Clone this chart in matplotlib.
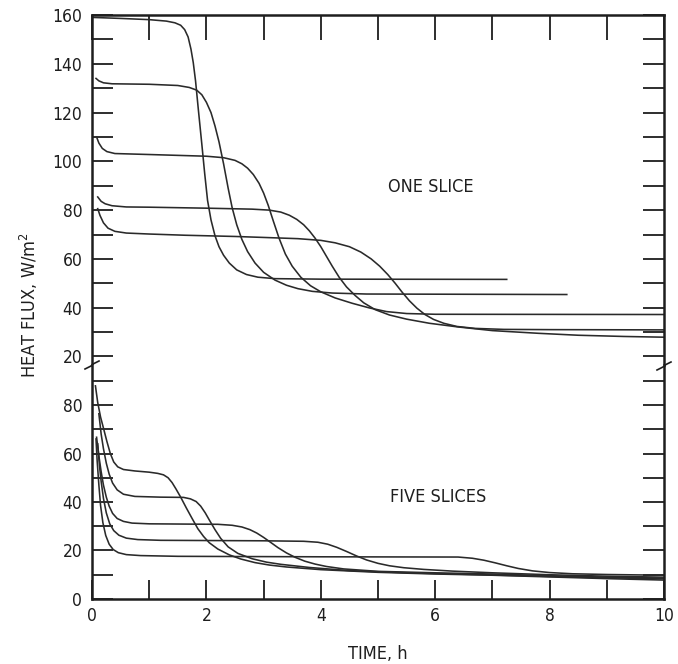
import matplotlib
matplotlib.use("Agg")
import matplotlib.pyplot as plt
from matplotlib.lines import Line2D
from matplotlib.ticker import MultipleLocator

plt.rcParams["font.family"] = ["DejaVu Sans"]
plt.rcParams["font.stretch"] = "condensed"

# ONE SLICE: heat flux (W/m2) against time (h)
one_t1 = [0.02, 0.5, 1.0, 1.3, 1.45, 1.55, 1.62, 1.68, 1.73, 1.77, 1.81, 1.86, 1.92, 1.97, 2.02, 2.08,
          2.15, 2.22, 2.3, 2.4, 2.53, 2.7, 2.9, 3.2, 4.0, 7.25]
one_q1 = [159.0, 158.6, 158.1, 157.5, 156.8, 155.8, 154.0, 151.0, 146.0, 140.5, 133.0, 121.0, 107.0, 95.0, 84.0, 76.0,
          69.5, 65.0, 61.5, 58.3, 55.5, 53.6, 52.5, 51.9, 51.7, 51.6]

one_t2 = [0.07, 0.12, 0.2, 0.35, 1.0, 1.5, 1.7, 1.83, 1.92, 2.0, 2.08, 2.15, 2.22, 2.3, 2.38, 2.45, 2.53,
          2.62, 2.72, 2.85, 3.0, 3.2, 3.4, 3.6, 3.85, 4.2, 4.8, 8.3]
one_q2 = [134.0, 133.0, 132.2, 131.8, 131.6, 131.1, 130.3, 129.2, 127.3, 124.2, 120.0, 114.5, 108.0, 99.0, 89.0, 81.0, 74.0,
          68.0, 63.0, 58.3, 54.5, 51.3, 49.2, 47.8, 46.7, 46.0, 45.6, 45.4]

one_t3 = [0.08, 0.12, 0.18, 0.26, 0.4, 1.0, 2.0, 2.3, 2.5, 2.62, 2.72, 2.82, 2.92, 3.0, 3.08, 3.17, 3.27,
          3.38, 3.5, 3.65, 3.82, 4.0, 4.25, 4.55, 4.85, 5.15, 5.5, 6.0, 10.0]
one_q3 = [110.0, 107.5, 105.3, 104.0, 103.2, 102.8, 102.1, 101.5, 100.4, 99.0, 97.2, 94.6, 91.0, 87.0, 82.0, 75.5, 68.5,
          62.0, 57.0, 52.5, 49.0, 46.5, 44.0, 41.8, 39.9, 38.4, 37.6, 37.3, 37.2]

one_t4 = [0.1, 0.16, 0.23, 0.35, 0.6, 1.0, 2.0, 2.8, 3.1, 3.3, 3.45, 3.58, 3.7, 3.8, 3.9, 4.0, 4.1, 4.2,
          4.32, 4.45, 4.6, 4.75, 4.95, 5.2, 5.5, 5.9, 6.4, 7.0, 7.8, 8.5, 9.3, 10.0]
one_q4 = [85.4, 83.6, 82.6, 81.8, 81.3, 81.2, 80.8, 80.4, 80.0, 79.2, 77.9, 76.2, 74.0, 71.5, 68.5, 65.0, 61.0, 57.0,
          52.5, 48.5, 45.0, 42.0, 39.2, 37.0, 35.3, 33.6, 32.1, 30.6, 29.5, 28.7, 28.2, 27.9]

one_t5 = [0.1, 0.14, 0.2, 0.28, 0.4, 0.6, 1.0, 1.63, 2.5, 3.0, 3.6, 4.0, 4.25, 4.5, 4.7, 4.88, 5.03, 5.17,
          5.3, 5.42, 5.55, 5.68, 5.82, 5.97, 6.15, 6.38, 6.7, 7.2, 8.0, 10.0]
one_q5 = [80.6, 77.8, 74.8, 72.6, 71.3, 70.6, 70.2, 69.7, 69.2, 68.8, 68.3, 67.6, 66.6, 65.0, 62.8, 60.0, 57.0, 53.6,
          50.0, 46.4, 42.8, 39.8, 37.2, 35.2, 33.6, 32.3, 31.5, 31.1, 31.0, 30.9]

# FIVE SLICES
five_t1 = [0.06, 0.1, 0.15, 0.2, 0.26, 0.32, 0.38, 0.45, 0.55, 0.75, 1.0, 1.15, 1.25, 1.33, 1.4, 1.47, 1.55,
           1.65, 1.75, 1.85, 1.95, 2.05, 2.2, 2.4, 2.6, 2.85, 3.1, 3.4, 4.0, 5.0, 6.0, 7.0, 8.0, 9.0, 10.0]
five_q1 = [87.9, 81.0, 75.0, 70.5, 65.0, 60.0, 56.5, 54.5, 53.4, 52.8, 52.3, 51.8, 51.2, 50.0, 48.0, 45.3, 42.0,
           37.5, 33.2, 29.0, 25.8, 23.2, 20.6, 18.2, 16.5, 15.0, 14.0, 13.2, 12.1, 11.0, 10.3, 9.8, 9.1, 8.4, 7.8]

five_t2 = [0.12, 0.16, 0.2, 0.25, 0.3, 0.36, 0.44, 0.55, 0.75, 1.2, 1.6, 1.72, 1.82, 1.9, 1.98, 2.06, 2.15,
           2.25, 2.38, 2.55, 2.8, 3.05, 3.3, 3.8, 4.5, 5.5, 6.5, 7.5, 8.5, 10.0]
five_q2 = [76.4, 68.0, 62.0, 56.0, 51.5, 47.8, 45.0, 43.2, 42.3, 42.0, 41.9, 41.3, 40.2, 38.3, 35.5, 32.2, 28.6,
           25.0, 21.5, 18.8, 16.6, 15.2, 14.3, 13.0, 11.7, 10.8, 10.2, 9.6, 9.0, 8.3]

five_t3 = [0.08, 0.12, 0.16, 0.2, 0.25, 0.3, 0.36, 0.44, 0.55, 0.7, 1.0, 2.2, 2.45, 2.62, 2.76, 2.88, 3.0,
           3.12, 3.25, 3.4, 3.55, 3.72, 3.9, 4.1, 4.4, 5.0, 6.0, 7.0, 8.0, 9.0, 10.0]
five_q3 = [66.7, 59.0, 52.5, 47.0, 42.0, 38.3, 35.3, 33.2, 32.0, 31.3, 31.0, 30.8, 30.4, 29.7, 28.6, 27.2, 25.4,
           23.4, 21.2, 19.0, 17.2, 15.6, 14.4, 13.4, 12.4, 11.4, 10.8, 10.3, 9.6, 9.0, 8.6]

five_t4 = [0.1, 0.13, 0.16, 0.2, 0.25, 0.31, 0.38, 0.47, 0.6, 0.8, 1.2, 3.0, 3.7, 3.95, 4.12, 4.28, 4.45,
           4.62, 4.8, 5.0, 5.2, 5.45, 5.8, 6.3, 7.0, 8.0, 9.0, 10.0]
five_q4 = [64.0, 55.0, 48.5, 41.5, 35.5, 31.0, 28.2, 26.3, 25.1, 24.5, 24.2, 24.0, 23.8, 23.4, 22.6, 21.3, 19.6,
           17.8, 16.1, 14.7, 13.7, 12.9, 12.2, 11.5, 10.8, 10.0, 9.4, 9.0]

five_t5 = [0.07, 0.09, 0.12, 0.15, 0.19, 0.24, 0.3, 0.37, 0.46, 0.6, 0.85, 1.5, 4.0, 6.4, 6.65, 6.85, 7.05,
           7.25, 7.45, 7.7, 8.0, 8.4, 9.0, 10.0]
five_q5 = [66.0, 57.0, 47.0, 38.5, 31.5, 26.2, 22.6, 20.4, 19.1, 18.3, 17.9, 17.6, 17.4, 17.3, 16.8, 16.0, 14.9,
           13.7, 12.6, 11.6, 10.9, 10.4, 10.1, 9.8]

one_slice = [(one_t1, one_q1), (one_t2, one_q2), (one_t3, one_q3), (one_t4, one_q4), (one_t5, one_q5)]
five_slices = [(five_t1, five_q1), (five_t2, five_q2), (five_t3, five_q3), (five_t4, five_q4), (five_t5, five_q5)]

LINE = "#2a2a2a"
INK = "#1e1e1e"

fig = plt.figure(figsize=(6.78, 6.64), dpi=100)
fig.patch.set_facecolor("white")

left, width = 0.1357, 0.8437
ax_top = fig.add_axes([left, 0.4503, width, 0.5271])
ax_bot = fig.add_axes([left, 0.0979, width, 0.3524])

for t, q in one_slice:
    ax_top.plot(t, q, color=LINE, lw=1.15, solid_joinstyle="round")
for t, q in five_slices:
    ax_bot.plot(t, q, color=LINE, lw=1.15, solid_joinstyle="round")

ax_top.set_xlim(0, 10)
ax_bot.set_xlim(0, 10)
ax_top.set_ylim(16.5, 160)
ax_bot.set_ylim(0, 96.5)

for ax in (ax_top, ax_bot):
    for side in ("left", "right", "top", "bottom"):
        ax.spines[side].set_linewidth(1.8)
        ax.spines[side].set_color(INK)
    ax.tick_params(which="both", direction="in", width=1.3, color=INK,
                   labelsize=12.5, labelcolor=INK)
    ax.tick_params(axis="y", which="both", left=True, right=True, length=15, pad=7)

ax_top.spines["bottom"].set_visible(False)
ax_bot.spines["top"].set_visible(False)

# top panel
ax_top.yaxis.set_major_locator(MultipleLocator(20))
ax_top.yaxis.set_minor_locator(MultipleLocator(10))
ax_top.xaxis.set_major_locator(MultipleLocator(1))
ax_top.tick_params(axis="x", which="both", bottom=False, top=True,
                   labelbottom=False, length=18)

# bottom panel
ax_bot.yaxis.set_major_locator(MultipleLocator(20))
ax_bot.yaxis.set_minor_locator(MultipleLocator(10))
ax_bot.xaxis.set_major_locator(MultipleLocator(2))
ax_bot.xaxis.set_minor_locator(MultipleLocator(1))
ax_bot.tick_params(axis="x", which="both", top=False, bottom=True, length=14, pad=6)

ax_top.text(5.93, 89.4, "ONE SLICE", ha="center", va="center", fontsize=13, color=INK)
ax_bot.text(6.05, 41.9, "FIVE SLICES", ha="center", va="center", fontsize=13, color=INK)

ax_bot.set_xlabel("TIME, h", fontsize=13, color=INK, labelpad=14)
fig.text(0.042, 0.54, "HEAT FLUX, W/m$^2$", rotation=90, ha="center", va="center",
         fontsize=13, color=INK)

# axis break marks on both side spines
W, H = 678, 664


def zigzag(x0, y0):
    xs = [x0 - 7, x0 - 1, x0 + 1, x0 + 7]
    ys = [y0 + 4, y0 + 1, y0 - 1, y0 - 4]
    fig.add_artist(Line2D([x / W for x in xs], [1 - y / H for y in ys],
                          transform=fig.transFigure, color=INK, lw=1.2))


zigzag(92, 365)
zigzag(664, 366)

fig.savefig("out.png", dpi=100, facecolor="white")
